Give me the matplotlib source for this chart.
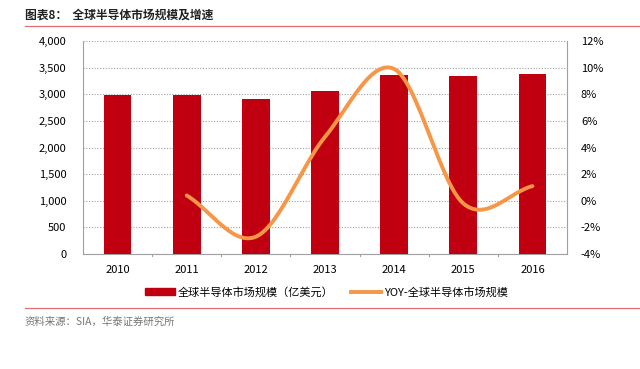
import numpy as np
import matplotlib
matplotlib.use("Agg")
import matplotlib.pyplot as plt
from matplotlib.ticker import FuncFormatter, MultipleLocator
from matplotlib.patches import Patch
from matplotlib.lines import Line2D

plt.rcParams['font.family'] = ['Noto Sans CJK SC', 'DejaVu Sans']

years = ['2010', '2011', '2012', '2013', '2014', '2015', '2016']
market = [2985, 2995, 2916, 3056, 3358, 3352, 3389]
yoy_years = ['2011', '2012', '2013', '2014', '2015', '2016']
yoy = [0.4, -2.7, 4.8, 9.9, -0.2, 1.1]

title = '图表8：  全球半导体市场规模及增速'
source = '资料来源：SIA，华泰证券研究所'
bar_label = '全球半导体市场规模（亿美元）'
line_label = 'YOY-全球半导体市场规模'

bar_color = '#C00010'
line_color = '#F79646'

fig = plt.figure(figsize=(6.4, 3.69), dpi=100)
ax = fig.add_axes([83/640, 1-254/369, (567-83)/640, (254-41)/369])
x = np.arange(len(years))
ax.bar(x, market, width=0.4, color=bar_color, zorder=3)
ax.set_xlim(-0.5, len(years)-0.5)
ax.set_ylim(0, 4000)
ax.yaxis.set_major_locator(MultipleLocator(500))
ax.yaxis.set_major_formatter(FuncFormatter(lambda v, p: f'{int(v):,}'))
ax.grid(axis='y', linestyle=(0, (1, 1.5)), color='#A0A0A0', linewidth=0.8, zorder=0)
ax.set_xticks(x)
ax.set_xticklabels(years)
ax.tick_params(axis='x', length=0, pad=8, labelsize=8)
ax.tick_params(axis='y', length=0, pad=12, labelsize=8)
for xb in np.arange(0.5, len(years)-0.5, 1):
    ax.plot([xb, xb], [0, -40], color='#A0A0A0', lw=0.8, clip_on=False)
for s in ['left', 'right', 'bottom']:
    ax.spines[s].set_color('#A0A0A0')
    ax.spines[s].set_linewidth(0.8)
ax.spines['top'].set_visible(False)

ax2 = ax.twinx()
ax2.set_ylim(-4, 12)
ax2.yaxis.set_major_locator(MultipleLocator(2))
ax2.yaxis.set_major_formatter(FuncFormatter(lambda v, p: f'{int(round(v))}%'))
ax2.tick_params(axis='y', length=0, pad=10, labelsize=8)
for s in ax2.spines.values():
    s.set_visible(False)

# Smoothed line (Catmull-Rom style like Excel)
px = np.array([years.index(y) for y in yoy_years], dtype=float)
py = np.array(yoy, dtype=float)
cx, cy = [], []
n = len(px)
for i in range(n-1):
    p0 = (px[max(i-1, 0)], py[max(i-1, 0)])
    p1 = (px[i], py[i])
    p2 = (px[i+1], py[i+1])
    p3 = (px[min(i+2, n-1)], py[min(i+2, n-1)])
    t = np.linspace(0, 1, 30)
    for a, b, c, d, out in [(p0[0], p1[0], p2[0], p3[0], cx), (p0[1], p1[1], p2[1], p3[1], cy)]:
        m1 = (c - a) / 2 * (1 if i > 0 else 2)
        m2 = (d - b) / 2 * (1 if i < n-2 else 2)
        h00 = 2*t**3 - 3*t**2 + 1
        h10 = t**3 - 2*t**2 + t
        h01 = -2*t**3 + 3*t**2
        h11 = t**3 - t**2
        out.extend(h00*b + h10*m1 + h01*c + h11*m2)
ax2.plot(cx, cy, color=line_color, lw=2.8, solid_capstyle='round', zorder=4)

# Title and lines
fig.text(25/640, 1-15/369, title, fontsize=8.5, fontweight='bold', va='center', ha='left', color='#222222')
fig.add_artist(Line2D([25/640, 1], [1-26/369]*2, color='#E07070', lw=0.9))
fig.add_artist(Line2D([25/640, 1], [1-308/369]*2, color='#E07070', lw=0.9))
fig.text(25/640, 1-322/369, source, fontsize=7.5, va='center', ha='left', color='#777777')

handles = [Patch(color=bar_color), Line2D([0], [0], color=line_color, lw=2.8)]
fig.legend(handles, [bar_label, line_label], loc='center', bbox_to_anchor=(326/640, 1-292/369),
           ncol=2, frameon=False, fontsize=8, handlelength=2.7, handleheight=0.6,
           columnspacing=1.6, handletextpad=0.25)

fig.savefig('out.png', dpi=100)
